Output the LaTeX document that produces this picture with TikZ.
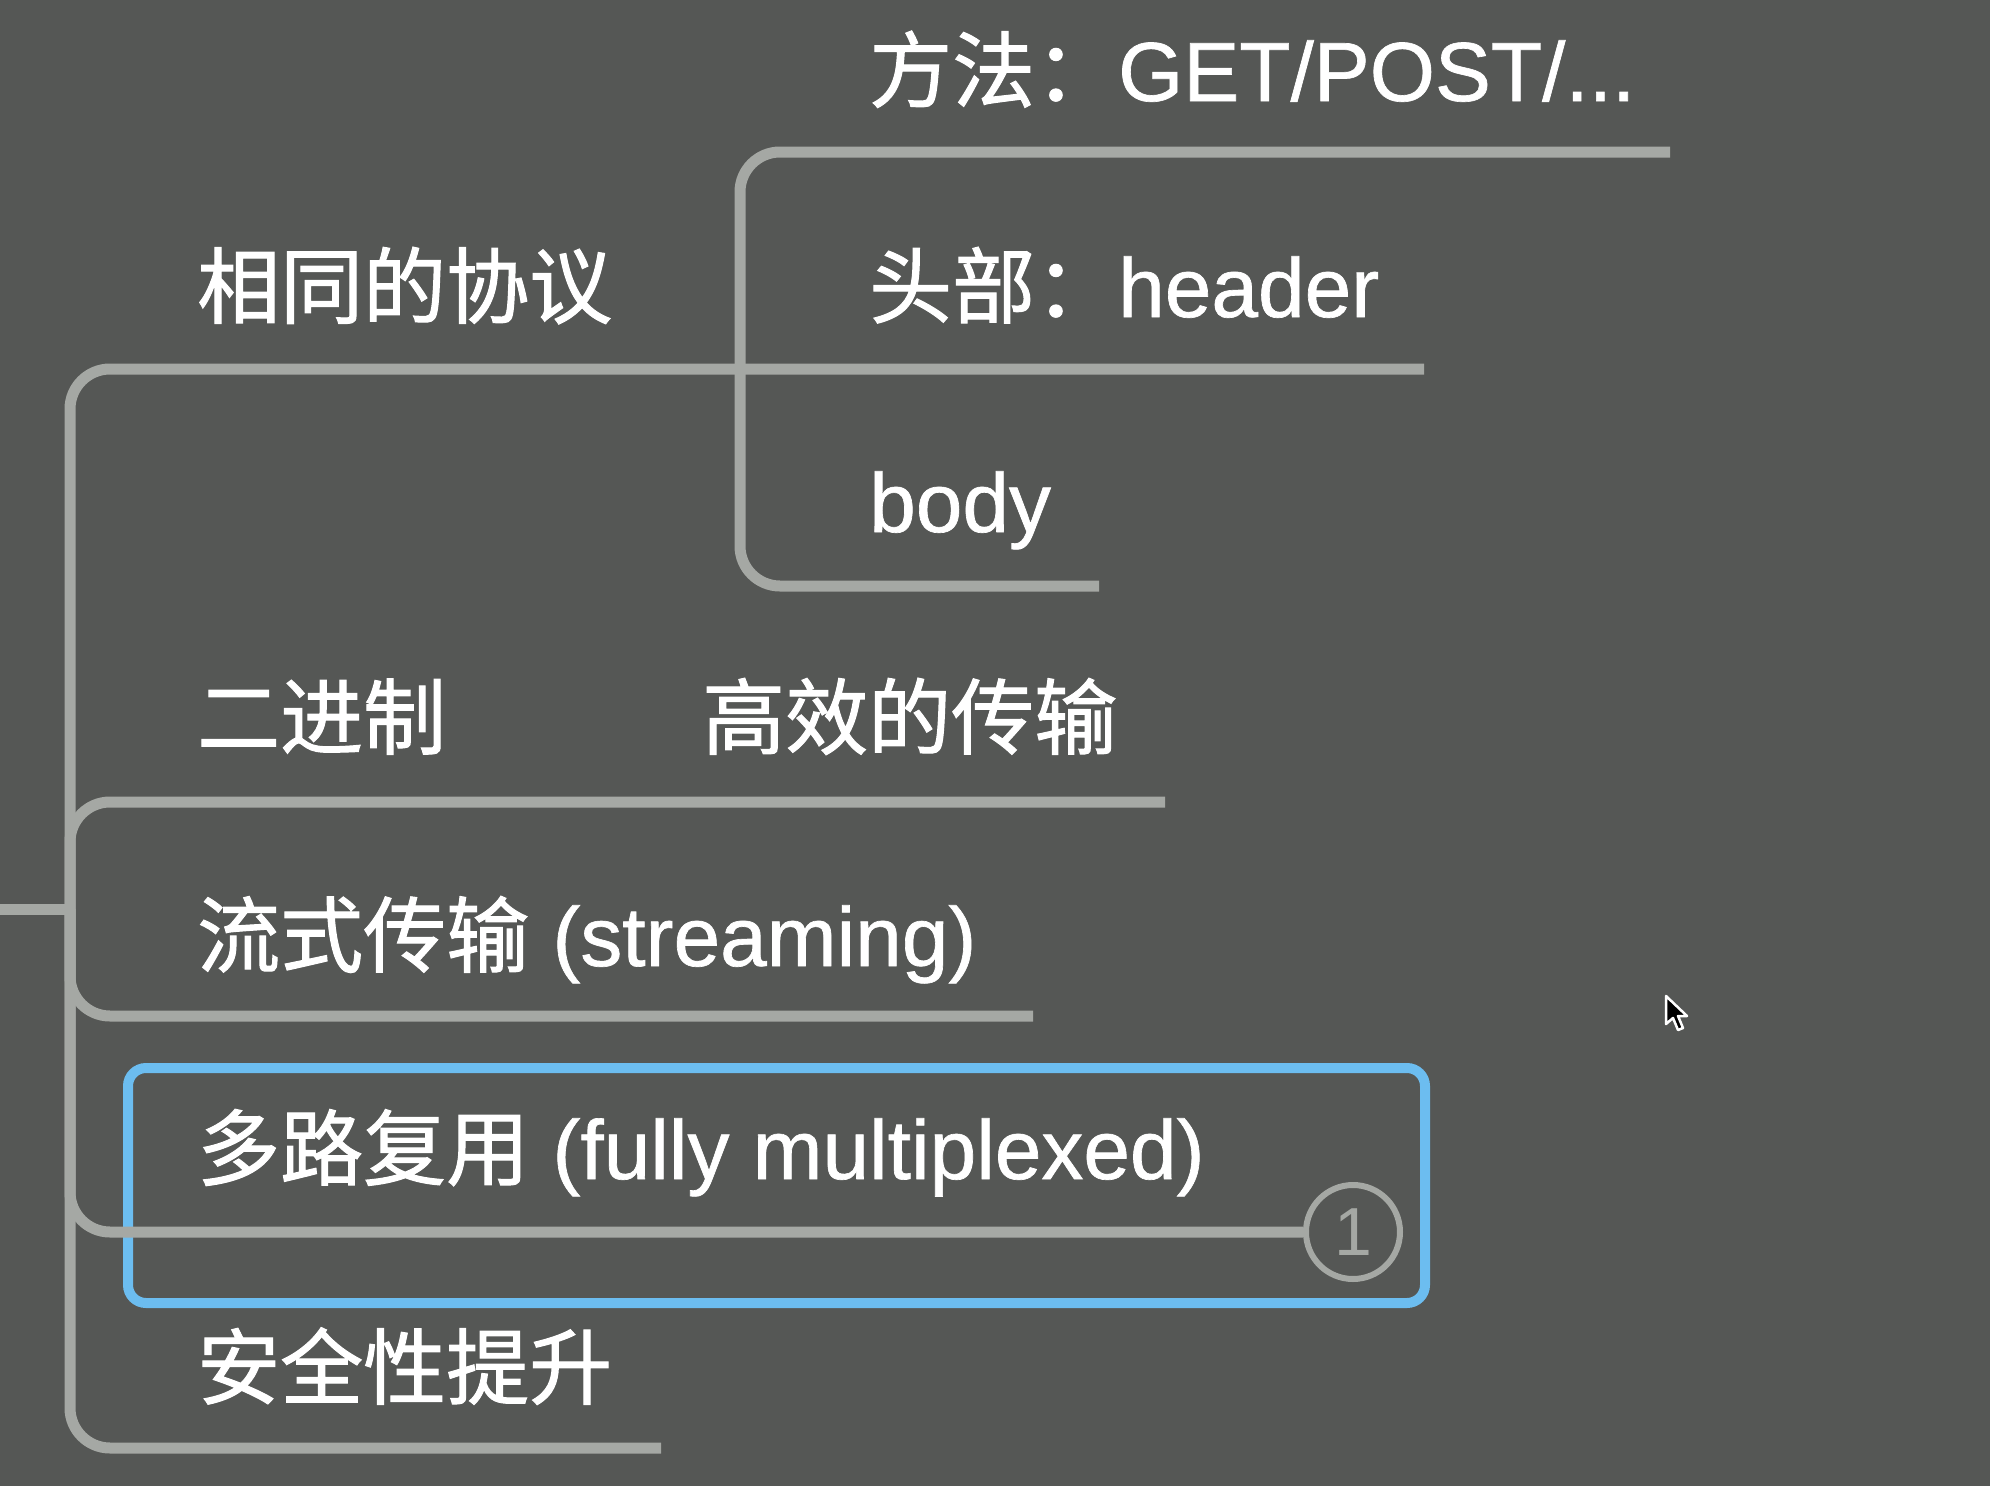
\documentclass[tikz,border=0pt]{standalone}
\usepackage{fontspec}
\setmainfont{Liberation Sans}[Scale=1.01,FakeBold=0.8]
\newfontfamily\cjk{Noto Sans CJK SC}[FakeBold=1.2]
\newfontfamily\numfont{Liberation Sans}
\newcommand{\zh}[1]{{\cjk #1}}
\definecolor{bgc}{HTML}{555755}
\definecolor{linec}{HTML}{A5A8A4}
\definecolor{bluec}{HTML}{6CBDF0}
\begin{document}
\begin{tikzpicture}[x=1pt,y=-1pt,
  lbl/.style={anchor=base west,inner sep=0pt,text=white,font=\fontsize{83}{90}\selectfont},
  branch/.style={draw=linec,line width=11pt,rounded corners=40pt},
]
\useasboundingbox (0,0) rectangle (1990,1486);
\fill[bgc] (0,0) rectangle (1990,1486);

% text nodes
\node[lbl] (t1) at (197,317) {\zh{相同的协议}};
\node[lbl] (t11) at (869,101) {\zh{方法：}GET/POST/...};
\node[lbl] (t12) at (869,317) {\zh{头部：}header};
\node[lbl] (t13) at (869,532) {body};
\node[lbl] (t2) at (197,748) {\zh{二进制}};
\node[lbl] (t2b) at (702,748) {\zh{高效的传输}};
\node[lbl] (t3) at (197,966) {\zh{流式传输} (streaming)};
\node[lbl] (t4) at (197,1179) {\zh{多路复用} (fully multiplexed)};
\node[lbl] (t5) at (197,1398) {\zh{安全性提升}};

% coordinates
\coordinate (root) at (0,909);
\coordinate (trunk) at (70,909);
\coordinate (sub) at (740,369);
\coordinate (e1) at (1424,369);
\coordinate (e11) at (1670,152);
\coordinate (e13) at (1099,586);
\coordinate (e2) at (1165,802);
\coordinate (e3) at (1033,1016);
\coordinate (e5) at (661,1448);

% highlight box
\draw[bluec,line width=10pt,rounded corners=18pt] (128,1068) rectangle (1425,1303);

% circle badge
\node[circle,draw=linec,line width=6pt,minimum size=94pt,inner sep=0pt,
      text=linec,font=\numfont\fontsize{68}{72}\selectfont] (c1) at (1353,1232) {1};

% connectors
\draw[draw=linec,line width=11pt] (root) -- (trunk);
\draw[branch] (trunk) |- (e1);
\draw[branch] (trunk) |- (e2);
\draw[branch] (trunk) |- (e3);
\draw[branch] (trunk) |- (c1.west);
\draw[branch] (trunk) |- (e5);
\draw[branch] (sub) |- (e11);
\draw[branch] (sub) |- (e13);

% mouse cursor
\filldraw[fill=black,draw=white,line width=2.5pt,line join=round]
  (1666,996) -- (1666,1024) -- (1673,1018) -- (1678,1030) -- (1683,1028)
  -- (1678,1016) -- (1687,1016) -- cycle;
\end{tikzpicture}
\end{document}
